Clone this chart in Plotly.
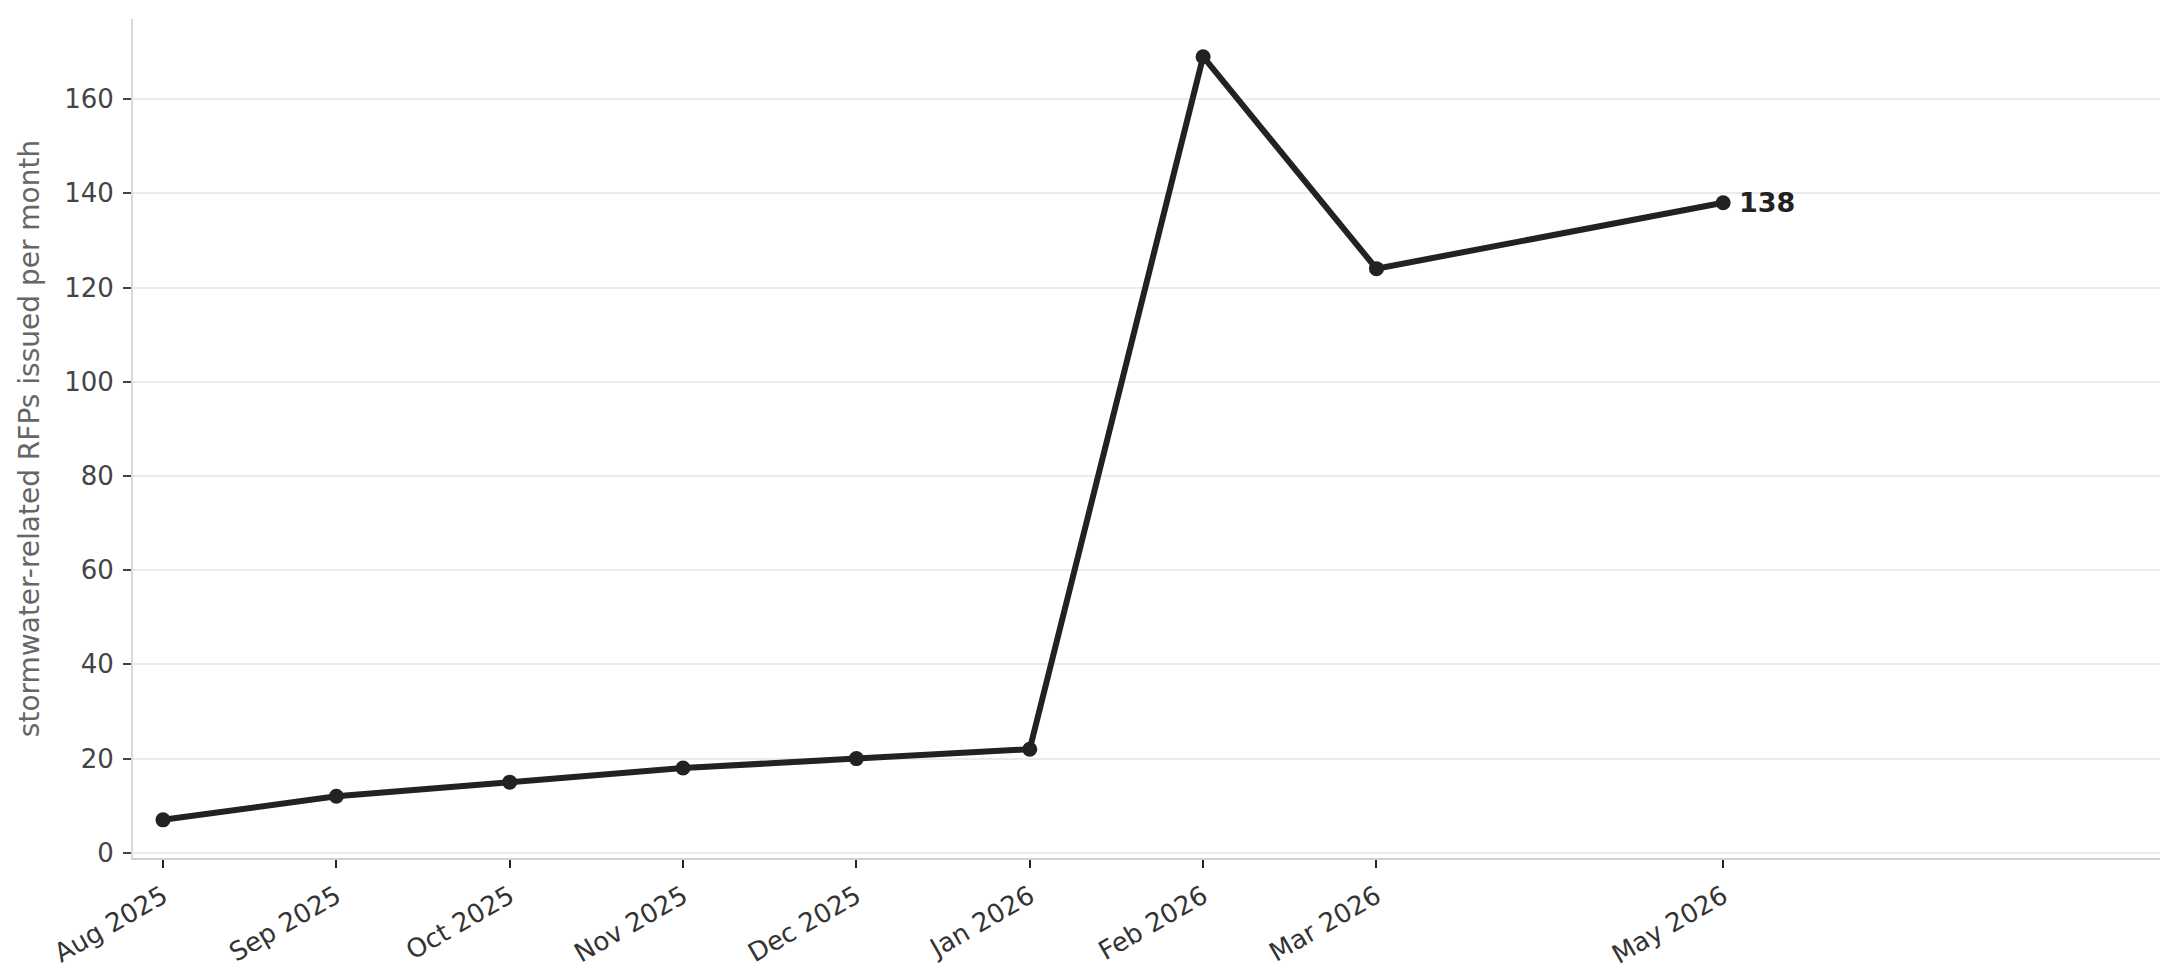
import plotly.graph_objects as go

# month index counted from Aug 2025 (Apr 2026 has no observation)
month_index = [0, 1, 2, 3, 4, 5, 6, 7, 9]
month_labels = ["Aug 2025", "Sep 2025", "Oct 2025", "Nov 2025", "Dec 2025",
                "Jan 2026", "Feb 2026", "Mar 2026", "May 2026"]
rfps = [7, 12, 15, 18, 20, 22, 169, 124, 138]
y_ticks = [0, 20, 40, 60, 80, 100, 120, 140, 160]

FONT = "DejaVu Sans"
INK = "#222222"

fig = go.Figure()
fig.add_trace(go.Scatter(
    x=month_index, y=rfps, mode="lines+markers",
    line=dict(color=INK, width=6),
    marker=dict(color=INK, size=15),
    hoverinfo="skip", showlegend=False,
))

fig.add_annotation(
    x=month_index[-1], y=rfps[-1], xref="x", yref="y",
    text="<b>%d</b>" % rfps[-1], showarrow=False,
    xanchor="left", yanchor="middle", xshift=14,
    font=dict(family=FONT, size=27, color=INK),
)

fig.update_layout(
    width=2165, height=964,
    margin=dict(l=125, r=13, t=11, b=114, autoexpand=False),
    paper_bgcolor="white", plot_bgcolor="white",
    font=dict(family=FONT, color="#444444"),
    xaxis=dict(
        range=[-0.173, 11.52],
        tickmode="array", tickvals=month_index, ticktext=month_labels,
        tickangle=-30, tickfont=dict(family=FONT, size=26, color="#333333"),
        ticks="outside", ticklen=8, tickwidth=2, tickcolor="#222222",
        ticklabelstandoff=3,
        showgrid=False, zeroline=False,
        showline=True, linecolor="#d0d0d0", linewidth=2,
        automargin=False,
    ),
    yaxis=dict(
        range=[-1.1, 177],
        tickmode="array", tickvals=y_ticks,
        tickfont=dict(family=FONT, size=26, color="#444444"),
        ticks="outside", ticklen=8, tickwidth=2, tickcolor="#444444",
        ticklabelstandoff=4,
        showgrid=True, gridcolor="#ebebeb", gridwidth=2,
        zeroline=False,
        showline=True, linecolor="#d8d8d8", linewidth=2,
        title=dict(text="stormwater-related RFPs issued per month",
                   font=dict(family=FONT, size=28, color="#666666"),
                   standoff=16),
        automargin=False,
    ),
)

fig.write_html("out.html")
